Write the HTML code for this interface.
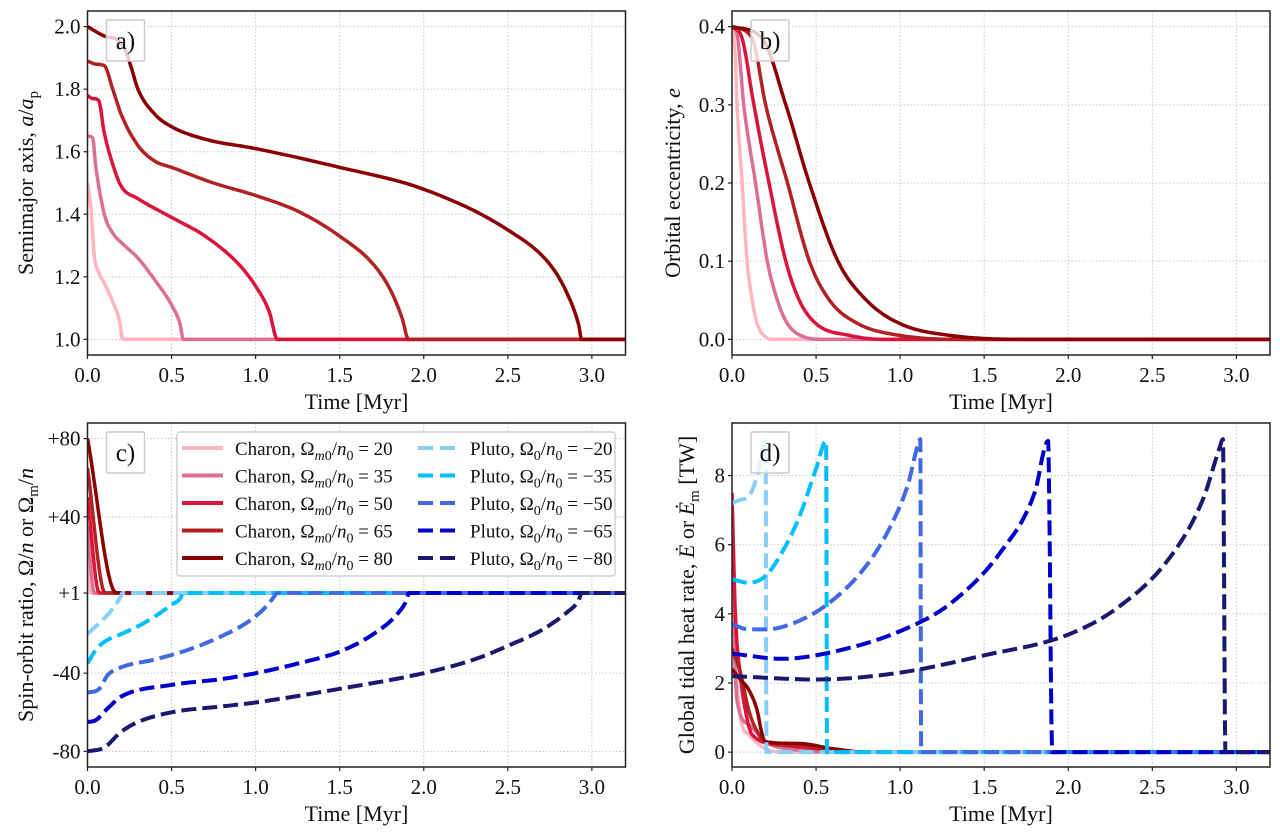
<!DOCTYPE html>
<html><head><meta charset="utf-8"><style>
html,body{margin:0;padding:0;background:#fff;}
svg{display:block;font-family:"Liberation Serif",serif;}
</style></head><body>
<svg id="fig" width="1280" height="838" viewBox="0 0 1280 838" xmlns="http://www.w3.org/2000/svg"></svg>
<script>
// ---------- data ----------
const charonLabels = [20,35,50,65,80];
const plutoLabels = [-20,-35,-50,-65,-80];
const charonColors = ['#ffb6c1','#db7093','#dc143c','#b22222','#8b0000'];
const plutoColors = ['#87cefa','#00bfff','#4169e1','#0000cd','#191970'];
const xTicks = [0,0.5,1.0,1.5,2.0,2.5,3.0];
const xTickLabels = ['0.0','0.5','1.0','1.5','2.0','2.5','3.0'];

// panel a: semimajor axis
const aT = [
 [0,0.02,0.04,0.07,0.10,0.15,0.19,0.21,3.2],
 [0,0.03,0.05,0.10,0.15,0.20,0.30,0.40,0.50,0.55,0.57,3.2],
 [0,0.03,0.065,0.10,0.15,0.20,0.30,0.50,0.70,0.90,1.00,1.08,1.13,3.2],
 [0,0.05,0.10,0.15,0.20,0.30,0.40,0.50,0.75,1.00,1.25,1.50,1.70,1.80,1.87,1.91,3.2],
 [0,0.10,0.17,0.22,0.26,0.30,0.40,0.50,0.70,1.00,1.50,2.00,2.50,2.75,2.85,2.92,2.94,3.2]];
const aV = [
 [1.50,1.42,1.27,1.21,1.18,1.12,1.06,1.0,1.0],
 [1.65,1.645,1.55,1.40,1.34,1.31,1.26,1.19,1.11,1.05,1.0,1.0],
 [1.78,1.77,1.765,1.66,1.56,1.49,1.45,1.39,1.33,1.24,1.17,1.09,1.0,1.0],
 [1.89,1.88,1.875,1.80,1.72,1.62,1.57,1.55,1.50,1.46,1.41,1.33,1.24,1.16,1.07,1.0,1.0],
 [2.0,1.97,1.96,1.93,1.87,1.80,1.72,1.68,1.64,1.61,1.55,1.48,1.35,1.24,1.15,1.05,1.0,1.0]];

// panel b: eccentricity
const eT = [
 [0,0.02,0.03,0.06,0.09,0.12,0.15,0.20,0.25,3.2],
 [0,0.03,0.07,0.14,0.21,0.27,0.33,0.42,0.55,3.2],
 [0,0.06,0.13,0.22,0.32,0.40,0.50,0.70,0.90,3.2],
 [0,0.12,0.20,0.33,0.46,0.58,0.75,1.00,1.40,3.2],
 [0,0.18,0.32,0.46,0.63,0.80,1.00,1.30,1.80,3.2]];
const eV = [
 [0.4,0.36,0.30,0.20,0.10,0.05,0.02,0.003,0,0],
 [0.4,0.39,0.30,0.20,0.10,0.05,0.02,0.004,0,0],
 [0.4,0.385,0.30,0.20,0.10,0.05,0.02,0.005,0,0],
 [0.4,0.385,0.30,0.20,0.10,0.05,0.02,0.005,0,0],
 [0.4,0.385,0.30,0.20,0.10,0.05,0.02,0.005,0,0]];

// panel c: spin-orbit ratio
const cCT = [[0,0.02,3.2],[0,0.04,3.2],[0,0.07,3.2],[0,0.105,3.2],[0,0.17,3.2]];
const cCV = [[20,1,1],[35,1,1],[50,1,1],[65,1,1],[80,1,1]];
const cPT = [
 [0,0.05,0.10,0.15,0.19,0.21,3.2],
 [0,0.05,0.10,0.20,0.30,0.40,0.50,0.55,0.57,3.2],
 [0,0.07,0.12,0.20,0.40,0.60,0.80,0.95,1.05,1.10,1.13,3.2],
 [0,0.05,0.12,0.20,0.50,0.80,1.00,1.30,1.50,1.70,1.85,1.90,1.91,3.2],
 [0,0.10,0.20,0.30,0.50,0.80,1.00,1.50,2.00,2.30,2.50,2.70,2.85,2.92,2.94,3.2]];
const cPV = [
 [-20,-16,-12,-7,-2,1,1],
 [-35,-28,-24,-20,-16,-11,-5,-2,1,1],
 [-50,-48,-41,-37,-33,-28,-21,-14,-7,-2,1,1],
 [-65,-64,-58,-52,-46,-43,-40,-34,-29,-20,-9,-2,1,1],
 [-80,-78,-70,-65,-60,-57,-55,-48,-40,-33,-26,-18,-9,-3,1,1]];

// panel d: heat rate
const dCT = [
 [0,0.05,0.10,0.20,0.30,3.2],
 [0,0.03,0.10,0.20,0.40,0.60,3.2],
 [0,0.02,0.05,0.08,0.12,0.30,0.50,0.70,3.2],
 [0,0.05,0.10,0.15,0.20,0.40,0.60,0.80,3.2],
 [0,0.05,0.10,0.15,0.18,0.20,0.40,0.60,0.80,3.2]];
const dCV = [
 [4,1,0.5,0.1,0,0],
 [5,1.5,0.8,0.3,0.05,0,0],
 [7.5,4,2.2,1.2,0.5,0.2,0.1,0,0],
 [3,2.3,1.2,0.6,0.3,0.2,0.05,0,0],
 [2.4,2.1,1.8,1.2,0.5,0.3,0.25,0.1,0,0]];
const dPT = [
 [0,0.05,0.10,0.15,0.20,0.205,3.2],
 [0,0.10,0.20,0.30,0.40,0.50,0.56,0.565,3.2],
 [0,0.10,0.20,0.40,0.60,0.80,0.95,1.05,1.10,1.12,1.125,3.2],
 [0,0.30,0.60,1.00,1.30,1.60,1.80,1.88,1.905,3.2],
 [0,0.50,1.00,1.50,2.00,2.30,2.60,2.80,2.90,2.92,2.935,3.2]];
const dPV = [
 [7.2,7.3,7.4,8.0,9.0,0,0],
 [5.0,4.9,5.1,5.8,6.8,8.2,9.0,0,0],
 [3.7,3.55,3.55,3.8,4.4,5.4,6.6,7.8,8.8,9.05,0,0],
 [2.85,2.7,2.9,3.5,4.3,5.8,7.5,9.0,0,0],
 [2.2,2.1,2.3,2.8,3.4,4.2,5.6,7.3,8.8,9.05,0,0]];

// ---------- drawing ----------
const NS='http://www.w3.org/2000/svg';
const svg=document.getElementById('fig');
function mk(tag,attrs,parent){const e=document.createElementNS(NS,tag);for(const k in attrs)e.setAttribute(k,attrs[k]);(parent||svg).appendChild(e);return e;}

function smooth(xs,ys){
  const n=xs.length; if(n<3) return xs.map((x,i)=>[x,ys[i]]);
  const d=[],m=new Array(n);
  for(let i=0;i<n-1;i++) d.push((ys[i+1]-ys[i])/(xs[i+1]-xs[i]));
  m[0]=d[0]; m[n-1]=d[n-2];
  for(let i=1;i<n-1;i++){ m[i]=(d[i-1]*d[i]<=0)?0:(d[i-1]+d[i])/2; }
  for(let i=0;i<n-1;i++){
    if(d[i]===0){m[i]=0;m[i+1]=0;continue;}
    const a=m[i]/d[i],b=m[i+1]/d[i],s=a*a+b*b;
    if(s>9){const t=3/Math.sqrt(s);m[i]=t*a*d[i];m[i+1]=t*b*d[i];}
  }
  const out=[];
  for(let i=0;i<n-1;i++){
    const h=xs[i+1]-xs[i],N=10;
    for(let k=0;k<N;k++){
      const t=k/N,t2=t*t,t3=t2*t;
      const y=(2*t3-3*t2+1)*ys[i]+(t3-2*t2+t)*h*m[i]+(-2*t3+3*t2)*ys[i+1]+(t3-t2)*h*m[i+1];
      out.push([xs[i]+t*h,y]);
    }
  }
  out.push([xs[n-1],ys[n-1]]);
  return out;
}

function panel(cfg){
  const g=mk('g',{});
  
  
  const X=v=>cfg.x0+(v-0)/(3.2)*(cfg.x1-cfg.x0);
  const Y=v=>cfg.y1-(v-cfg.ymin)/(cfg.ymax-cfg.ymin)*(cfg.y1-cfg.y0);
  const clipId='clip-'+cfg.name;
  const cp=mk('clipPath',{id:clipId},g);
  mk('rect',{x:cfg.x0,y:cfg.y0,width:cfg.x1-cfg.x0,height:cfg.y1-cfg.y0},cp);
  const grid=mk('g',{stroke:'#c8c8c8','stroke-width':1,'stroke-dasharray':'1.5 2'},g);
  
  
  xTicks.forEach(t=>mk('line',{x1:X(t),x2:X(t),y1:cfg.y0,y2:cfg.y1},grid));
  cfg.yTicks.forEach(t=>mk('line',{x1:cfg.x0,x2:cfg.x1,y1:Y(t),y2:Y(t)},grid));
  const sg=mk('g',{'clip-path':'url(#'+clipId+')',fill:'none','stroke-linejoin':'round'},g);
  cfg.series.forEach(s=>{
    const pp=smooth(s.t,s.v);
    const pts=pp.map(q=>X(q[0]).toFixed(1)+','+Y(q[1]).toFixed(1)).join(' ');
    const p=mk('polyline',{points:pts,stroke:s.color,'stroke-width':s.dash?4:3.5},sg);
    if(s.dash)p.setAttribute('stroke-dasharray','15 6');
    
    
  });
  const fr=mk('rect',{x:cfg.x0,y:cfg.y0,width:cfg.x1-cfg.x0,height:cfg.y1-cfg.y0,fill:'none',stroke:'#222','stroke-width':1.5},g);
  
  
  xTicks.forEach((t,i)=>{
    mk('line',{x1:X(t),x2:X(t),y1:cfg.y1,y2:cfg.y1+4,stroke:'#222','stroke-width':1.2},g);
    const tx=mk('text',{x:X(t),y:cfg.y1+27,'text-anchor':'middle','font-size':21,fill:'#111'},g);
    tx.textContent=xTickLabels[i];
    
    
  });
  cfg.yTicks.forEach((t,i)=>{
    mk('line',{x1:cfg.x0-4,x2:cfg.x0,y1:Y(t),y2:Y(t),stroke:'#222','stroke-width':1.2},g);
    const tx=mk('text',{x:cfg.x0-7,y:Y(t)+7,'text-anchor':'end','font-size':21,fill:'#111'},g);
    tx.textContent=cfg.yTickLabels[i];
    
    
  });
  const xl=mk('text',{x:(cfg.x0+cfg.x1)/2,y:cfg.y1+54,'text-anchor':'middle','font-size':22,fill:'#111'},g);
  xl.textContent='Time [Myr]';
  
  
  const yl=mk('text',{x:0,y:0,'text-anchor':'middle','font-size':22,fill:'#111',transform:`translate(${cfg.ylx},${(cfg.y0+cfg.y1)/2}) rotate(-90)`},g);
  yl.innerHTML=cfg.ylabel;
  
  
  const bx=mk('g',{},g);
  
  
  mk('rect',{x:cfg.x0+19,y:cfg.y0+9,width:38,height:41,fill:'rgba(255,255,255,0.8)',stroke:'#ccc','stroke-width':1.5,rx:1},bx);
  const lt=mk('text',{x:cfg.x0+38,y:cfg.y0+38,'text-anchor':'middle','font-size':25,fill:'#111'},bx);
  lt.textContent=cfg.letter;
  return {g,X,Y};
}

function mkSeries(T,V,colors,prefix,labels,dash){
  return T.map((t,i)=>({t:t,v:V[i],color:colors[i],dash:dash,name:prefix+'-'+Math.abs(labels[i])}));
}

panel({name:'panel-a',letter:'a)',x0:87.5,x1:625.5,y0:11,y1:355,ymin:0.95,ymax:2.05,
  yTicks:[1.0,1.2,1.4,1.6,1.8,2.0],yTickLabels:['1.0','1.2','1.4','1.6','1.8','2.0'],ylx:33,
  ylabel:'Semimajor axis, <tspan font-style="italic">a</tspan>/<tspan font-style="italic">a</tspan><tspan font-size="15" dy="5">p</tspan>',
  series:mkSeries(aT,aV,charonColors,'charon-a',charonLabels,false)});

panel({name:'panel-b',letter:'b)',x0:732,x1:1270,y0:11,y1:355,ymin:-0.02,ymax:0.42,
  yTicks:[0,0.1,0.2,0.3,0.4],yTickLabels:['0.0','0.1','0.2','0.3','0.4'],ylx:680,
  ylabel:'Orbital eccentricity, <tspan font-style="italic">e</tspan>',
  series:mkSeries(eT,eV,charonColors,'charon-e',charonLabels,false)});

panel({name:'panel-c',letter:'c)',x0:87.5,x1:625.5,y0:423,y1:767,ymin:-88,ymax:88,
  yTicks:[-80,-40,1,40,80],yTickLabels:['-80','-40','+1','+40','+80'],ylx:33,
  ylabel:'Spin-orbit ratio, Ω/<tspan font-style="italic">n</tspan> or Ω<tspan font-size="15" dy="5">m</tspan><tspan dy="-5">/</tspan><tspan font-style="italic">n</tspan>',
  series:mkSeries(cCT,cCV,charonColors,'charon-spin',charonLabels,false)
    .concat(mkSeries(cPT,cPV,plutoColors,'pluto-spin',plutoLabels,true))});

panel({name:'panel-d',letter:'d)',x0:732,x1:1270,y0:423,y1:767,ymin:-0.43,ymax:9.52,
  yTicks:[0,2,4,6,8],yTickLabels:['0','2','4','6','8'],ylx:694,
  ylabel:'Global tidal heat rate, <tspan font-style="italic">Ė</tspan> or <tspan font-style="italic">Ė</tspan><tspan font-size="15" dy="5">m</tspan><tspan dy="-5"> [TW]</tspan>',
  series:mkSeries(dCT,dCV,charonColors,'charon-heat',charonLabels,false)
    .concat(mkSeries(dPT,dPV,plutoColors,'pluto-heat',plutoLabels,true))});

// legend
const lg=mk('g',{});


mk('rect',{x:177,y:432,width:438,height:144,fill:'rgba(255,255,255,0.85)',stroke:'#d0d0d0','stroke-width':1.5,rx:3},lg);
for(let i=0;i<5;i++){
  const y=448+i*27.5;
  const e1=mk('g',{},lg);
  
  
  mk('line',{x1:182,x2:223,y1:y,y2:y,stroke:charonColors[i],'stroke-width':4},e1);
  const t1=mk('text',{x:235,y:y+7,'font-size':19,fill:'#111'},e1);
  t1.innerHTML='Charon, Ω<tspan font-size="14" dy="5" font-style="italic">m</tspan><tspan font-size="14">0</tspan><tspan dy="-5">/</tspan><tspan font-style="italic">n</tspan><tspan font-size="14" dy="5">0</tspan><tspan dy="-5"> = '+charonLabels[i]+'</tspan>';
  const e2=mk('g',{},lg);
  
  
  mk('line',{x1:418,x2:455,y1:y,y2:y,stroke:plutoColors[i],'stroke-width':4,'stroke-dasharray':'15 7'},e2);
  const t2=mk('text',{x:470,y:y+7,'font-size':19,fill:'#111'},e2);
  t2.innerHTML='Pluto, Ω<tspan font-size="14" dy="5">0</tspan><tspan dy="-5">/</tspan><tspan font-style="italic">n</tspan><tspan font-size="14" dy="5">0</tspan><tspan dy="-5"> = −'+Math.abs(plutoLabels[i])+'</tspan>';
}
</script>
</body></html>
